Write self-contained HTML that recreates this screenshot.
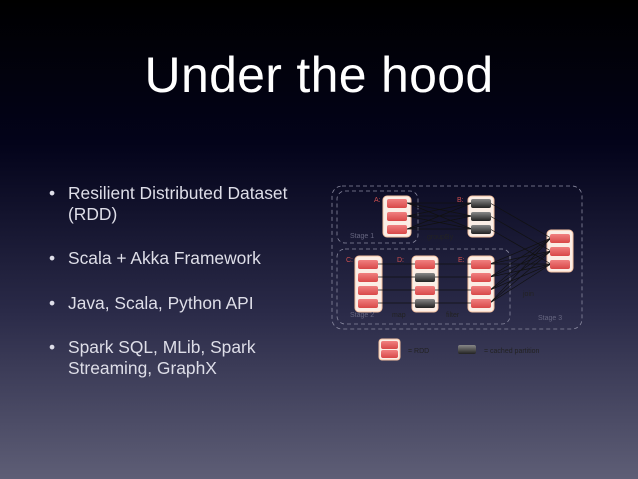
<!DOCTYPE html>
<html><head><meta charset="utf-8"><style>
html,body{margin:0;padding:0}
body{width:638px;height:479px;overflow:hidden;background:linear-gradient(to bottom,#000 0%,#03031a 30%,#2a2a48 65%,#5e5e76 100%);font-family:"Liberation Sans",sans-serif;position:relative}
.t{position:absolute;left:0;width:638px;top:46px;text-align:center;color:#fff;font-size:50px;font-weight:300;letter-spacing:0.3px}
.b{position:absolute;left:49px;color:#dedee8;font-size:17.4px;line-height:21px;white-space:nowrap}
.b span{position:absolute;left:0}
.b div{margin-left:19px}
</style></head><body>
<div class="t">Under the hood</div>
<div class="b" style="top:183px"><span>•</span><div>Resilient Distributed Dataset<br>(RDD)</div></div>
<div class="b" style="top:248px"><span>•</span><div>Scala + Akka Framework</div></div>
<div class="b" style="top:293px"><span>•</span><div>Java, Scala, Python API</div></div>
<div class="b" style="top:337px"><span>•</span><div>Spark SQL, MLib, Spark<br>Streaming, GraphX</div></div>
<svg width="638" height="479" style="position:absolute;left:0;top:0" font-family="Liberation Sans" font-size="7">
<defs>
<linearGradient id="r" x1="0" y1="0" x2="0" y2="1"><stop offset="0" stop-color="#f08080"/><stop offset="1" stop-color="#d84848"/></linearGradient>
<linearGradient id="g" x1="0" y1="0" x2="0" y2="1"><stop offset="0" stop-color="#888"/><stop offset="1" stop-color="#222"/></linearGradient>
</defs>
<g fill="none" stroke="#8a8aa0" stroke-dasharray="4,3" stroke-width="0.8">
<rect x="332" y="186" width="250" height="143" rx="10"/>
<rect x="337" y="191" width="81" height="52" rx="8"/>
<rect x="337" y="249" width="173" height="75" rx="8"/>
</g>
<g fill="#fbeee6" stroke="#f3c0a0" stroke-width="1">
<rect x="383" y="196" width="28" height="41" rx="4"/>
<rect x="468" y="196" width="26" height="41" rx="4"/>
<rect x="355" y="256" width="27" height="56" rx="4"/>
<rect x="412" y="256" width="26" height="56" rx="4"/>
<rect x="468" y="256" width="26" height="56" rx="4"/>
<rect x="547" y="230" width="26" height="42" rx="4"/>
<rect x="379" y="339" width="21" height="21" rx="3"/>
</g>
<g stroke="#111" stroke-width="0.7">
<line x1="407" y1="203" x2="472" y2="216"/><line x1="407" y1="203" x2="472" y2="229"/><line x1="407" y1="216" x2="472" y2="203"/><line x1="407" y1="216" x2="472" y2="229"/><line x1="407" y1="229" x2="472" y2="203"/><line x1="407" y1="229" x2="472" y2="216"/>
<line x1="407" y1="203" x2="472" y2="203"/><line x1="407" y1="216" x2="472" y2="216"/><line x1="407" y1="229" x2="472" y2="229"/>
<line x1="378" y1="264" x2="416" y2="264"/><line x1="378" y1="277" x2="416" y2="277"/><line x1="378" y1="290" x2="416" y2="290"/><line x1="378" y1="303" x2="416" y2="303"/>
<line x1="434" y1="264" x2="472" y2="264"/><line x1="434" y1="277" x2="472" y2="277"/><line x1="434" y1="290" x2="472" y2="290"/><line x1="434" y1="303" x2="472" y2="303"/>
<line x1="490" y1="203" x2="551" y2="238"/><line x1="490" y1="216" x2="551" y2="251"/><line x1="490" y1="229" x2="551" y2="264"/>
<line x1="490" y1="264" x2="551" y2="238"/><line x1="490" y1="264" x2="551" y2="251"/><line x1="490" y1="264" x2="551" y2="264"/>
<line x1="490" y1="277" x2="551" y2="238"/><line x1="490" y1="277" x2="551" y2="251"/><line x1="490" y1="277" x2="551" y2="264"/>
<line x1="490" y1="290" x2="551" y2="238"/><line x1="490" y1="290" x2="551" y2="251"/><line x1="490" y1="290" x2="551" y2="264"/>
<line x1="490" y1="303" x2="551" y2="238"/><line x1="490" y1="303" x2="551" y2="251"/><line x1="490" y1="303" x2="551" y2="264"/>
</g>
<g fill="url(#r)">
<rect x="387" y="199" width="20" height="9" rx="2"/><rect x="387" y="212" width="20" height="9" rx="2"/><rect x="387" y="225" width="20" height="9" rx="2"/>
<rect x="358" y="260" width="20" height="9" rx="2"/><rect x="358" y="273" width="20" height="9" rx="2"/><rect x="358" y="286" width="20" height="9" rx="2"/><rect x="358" y="299" width="20" height="9" rx="2"/>
<rect x="415" y="260" width="20" height="9" rx="2"/><rect x="415" y="286" width="20" height="9" rx="2"/>
<rect x="471" y="260" width="20" height="9" rx="2"/><rect x="471" y="273" width="20" height="9" rx="2"/><rect x="471" y="286" width="20" height="9" rx="2"/><rect x="471" y="299" width="20" height="9" rx="2"/>
<rect x="550" y="234" width="20" height="9" rx="2"/><rect x="550" y="247" width="20" height="9" rx="2"/><rect x="550" y="260" width="20" height="9" rx="2"/>
<rect x="381" y="341" width="17" height="8" rx="2"/><rect x="381" y="350" width="17" height="8" rx="2"/>
</g>
<g fill="url(#g)">
<rect x="471" y="199" width="20" height="9" rx="2"/><rect x="471" y="212" width="20" height="9" rx="2"/><rect x="471" y="225" width="20" height="9" rx="2"/>
<rect x="415" y="273" width="20" height="9" rx="2"/><rect x="415" y="299" width="20" height="9" rx="2"/>
<rect x="458" y="345" width="18" height="9" rx="2"/>
</g>
<g fill="#d05050"><text x="374" y="202">A:</text><text x="457" y="202">B:</text><text x="346" y="262">C:</text><text x="397" y="262">D:</text><text x="458" y="262">E:</text></g>
<g fill="#666680"><text x="350" y="238">Stage 1</text><text x="350" y="317">Stage 2</text><text x="538" y="320">Stage 3</text></g>
<g fill="#222"><text x="427" y="239">groupBy</text><text x="392" y="317">map</text><text x="446" y="317">filter</text><text x="523" y="296">join</text><text x="408" y="353">= RDD</text><text x="484" y="353">= cached partition</text></g>
</svg>
</body></html>
